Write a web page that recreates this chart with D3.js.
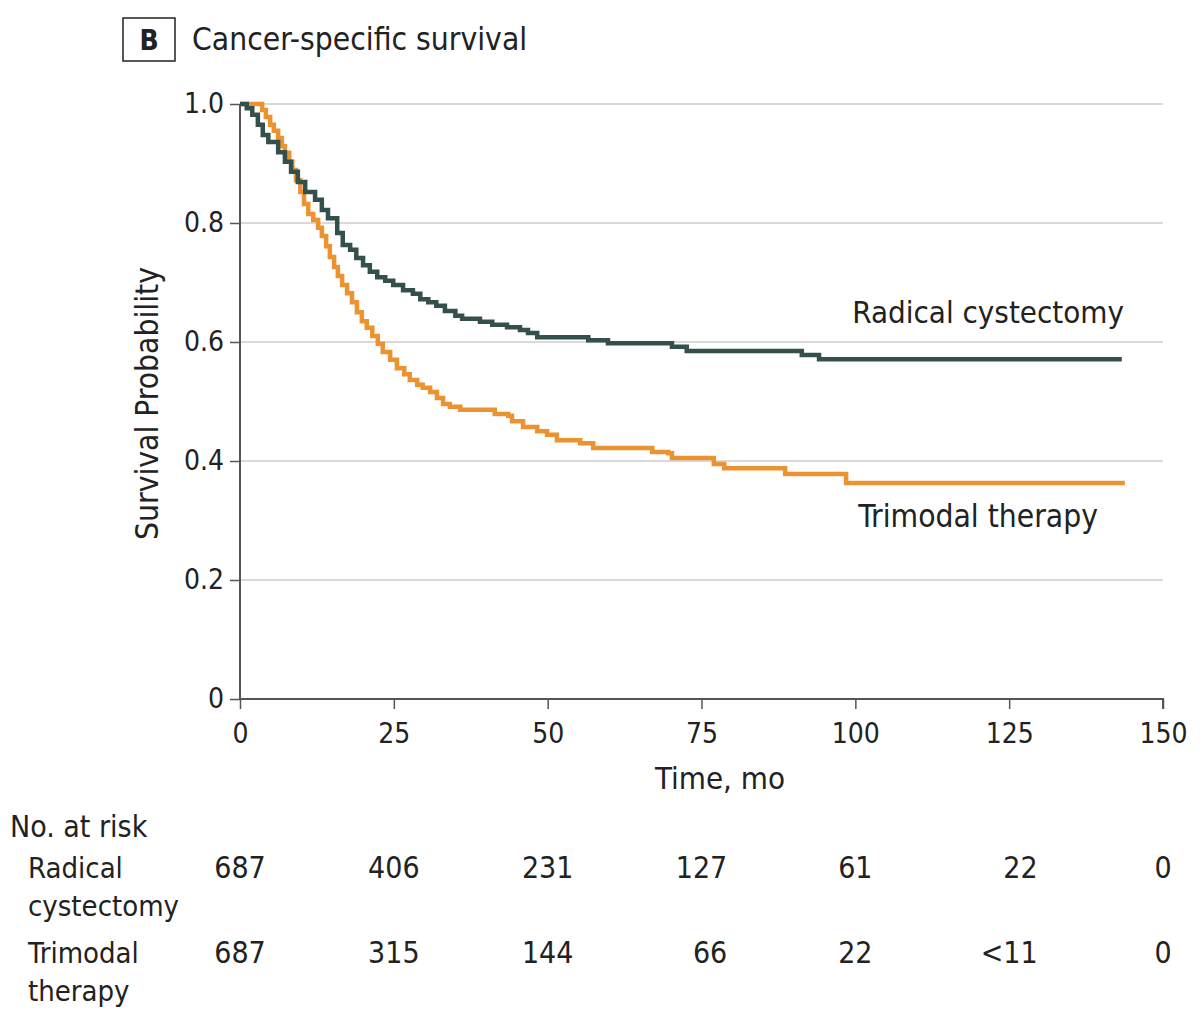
<!DOCTYPE html>
<html>
<head>
<meta charset="utf-8">
<script src="https://cdn.jsdelivr.net/npm/d3@7"></script>
<style>
  html, body { margin: 0; padding: 0; background: #fff; }
  svg { display: block; }
  text { font-family: "Liberation Sans Narrow", "DejaVu Sans Condensed", "Noto Sans", sans-serif; fill: #222; }
</style>
</head>
<body>
<svg id="chart" width="1200" height="1020"></svg>
<script>
// ---- Data ----
const xTicks = [0, 25, 50, 75, 100, 125, 150];
const yTicks = [0, 0.2, 0.4, 0.6, 0.8, 1.0];
const yTickLabels = ["0", "0.2", "0.4", "0.6", "0.8", "1.0"];

// Kaplan-Meier steps: [time (mo), survival probability]
const radicalCystectomy = [
  [0, 1.0], [1.1, 0.993], [2.0, 0.982], [2.9, 0.965], [3.7, 0.948], [4.6, 0.936],
  [6.2, 0.919], [7.3, 0.903], [8.3, 0.886], [9.4, 0.869], [10.6, 0.852], [12.2, 0.839],
  [13.3, 0.822], [14.3, 0.808], [15.8, 0.783], [16.7, 0.763], [17.9, 0.755], [18.9, 0.741],
  [20.0, 0.729], [21.1, 0.718], [22.3, 0.709], [23.6, 0.703], [24.9, 0.696], [26.5, 0.687],
  [28.1, 0.681], [29.3, 0.672], [30.6, 0.667], [31.9, 0.661], [33.3, 0.652], [35.0, 0.644],
  [36.1, 0.639], [39.0, 0.634], [41.0, 0.629], [43.4, 0.625], [45.5, 0.620], [46.8, 0.615],
  [48.3, 0.608], [56.6, 0.603], [59.8, 0.598], [70.2, 0.592], [72.6, 0.585], [91.3, 0.578],
  [94.1, 0.571], [143.3, 0.571]
];
const trimodalTherapy = [
  [0, 1.0], [2.9, 1.0], [3.6, 0.990], [4.2, 0.978], [4.9, 0.965], [5.5, 0.955], [6.2, 0.943],
  [6.8, 0.929], [7.3, 0.918], [8.0, 0.903], [8.5, 0.889], [9.1, 0.872], [9.8, 0.852],
  [10.4, 0.832], [11.1, 0.815], [11.9, 0.805], [12.7, 0.792], [13.3, 0.778], [14.0, 0.761],
  [14.6, 0.743], [15.3, 0.726], [15.9, 0.711], [16.6, 0.696], [17.4, 0.682], [18.2, 0.667],
  [19.0, 0.650], [19.8, 0.635], [20.6, 0.624], [21.5, 0.610], [22.4, 0.597], [23.2, 0.583],
  [24.4, 0.570], [25.5, 0.556], [26.7, 0.546], [27.6, 0.536], [28.8, 0.528], [29.7, 0.523],
  [30.9, 0.516], [32.0, 0.506], [33.0, 0.496], [34.1, 0.491], [35.8, 0.486], [41.4, 0.479],
  [43.6, 0.476], [44.2, 0.467], [46.0, 0.457], [48.3, 0.450], [49.9, 0.444], [51.5, 0.435],
  [55.3, 0.430], [57.4, 0.422], [67.0, 0.415], [69.6, 0.413], [70.2, 0.405], [77.0, 0.395],
  [78.7, 0.388], [88.6, 0.378], [98.5, 0.363], [143.8, 0.363]
];

const riskTimes = [0, 25, 50, 75, 100, 125, 150];
const riskRC = ["687", "406", "231", "127", "61", "22", "0"];
const riskTMT = ["687", "315", "144", "66", "22", "<11", "0"];

// ---- Layout ----
const svg = d3.select("#chart");
const x = d3.scaleLinear().domain([0, 150]).range([240, 1163]);
const y = d3.scaleLinear().domain([0, 1]).range([699, 104]);
const colRC = "#33504c";
const colTMT = "#ea9330";
const axisCol = "#555";
const FF = '"Liberation Sans Narrow", "DejaVu Sans Condensed", sans-serif';

// Title
svg.append("rect").attr("x", 123).attr("y", 18).attr("width", 52).attr("height", 43)
  .attr("fill", "none").attr("stroke", "#222").attr("stroke-width", 1.5);
svg.append("text").attr("x", 149).attr("y", 50).attr("text-anchor", "middle")
  .attr("font-size", 28).attr("font-weight", "bold").text("B");
svg.append("text").attr("x", 192).attr("y", 50).attr("font-size", 31.5).text("Cancer-specific survival");

// Gridlines
svg.append("g").selectAll("line").data(yTicks.filter(d => d > 0)).join("line")
  .attr("x1", x(0)).attr("x2", x(150)).attr("y1", d => y(d)).attr("y2", d => y(d))
  .attr("stroke", "#d9d9d9").attr("stroke-width", 2);

// Axes
const yAxis = d3.axisLeft(y).tickValues(yTicks).tickFormat((d, i) => yTickLabels[i]).tickSize(10).tickPadding(6);
const gy = svg.append("g").attr("transform", `translate(${x(0)},0)`).call(yAxis);
const xAxis = d3.axisBottom(x).tickValues(xTicks).tickSize(10).tickPadding(14);
const gx = svg.append("g").attr("transform", `translate(0,${y(0)})`).call(xAxis);
[gx, gy].forEach(g => {
  g.select(".domain").attr("stroke", axisCol).attr("stroke-width", 2);
  g.selectAll(".tick line").attr("stroke", axisCol).attr("stroke-width", 1.5);
  g.selectAll(".tick text").attr("font-size", 28).attr("fill", "#222").style("font-family", FF);
});
gy.select(".domain").attr("d", `M0,${y(1)}V${y(0)}`);
gx.select(".domain").attr("d", `M${x(0)},0H${x(150)}V10`);

// Axis titles
svg.append("text").attr("x", 720).attr("y", 789).attr("text-anchor", "middle")
  .attr("font-size", 31).text("Time, mo");
svg.append("text").attr("transform", `translate(158,${y(0.5) + 2}) rotate(-90)`)
  .attr("text-anchor", "middle").attr("font-size", 31.5).text("Survival Probability");

// Curves
const line = d3.line().x(d => x(d[0])).y(d => y(d[1])).curve(d3.curveStepAfter);
svg.append("path").datum(trimodalTherapy).attr("d", line)
  .attr("fill", "none").attr("stroke", colTMT).attr("stroke-width", 4.5);
svg.append("path").datum(radicalCystectomy).attr("d", line)
  .attr("fill", "none").attr("stroke", colRC).attr("stroke-width", 4.5);

// Curve labels
svg.append("text").attr("x", 1124).attr("y", 323).attr("text-anchor", "end")
  .attr("font-size", 31).text("Radical cystectomy");
svg.append("text").attr("x", 1098).attr("y", 527).attr("text-anchor", "end")
  .attr("font-size", 31.5).text("Trimodal therapy");

// Number at risk table
svg.append("text").attr("x", 10).attr("y", 837).attr("font-size", 30).text("No. at risk");
const rowLabel = (lines, y0) => {
  lines.forEach((t, i) => svg.append("text").attr("x", 28).attr("y", y0 + i * 38)
    .attr("font-size", 29).text(t));
};
rowLabel(["Radical", "cystectomy"], 878);
rowLabel(["Trimodal", "therapy"], 963);

const rows = [[riskRC, 878], [riskTMT, 963]];
const tbl = svg.append("g");
const cells = [];
rows.forEach(([vals, yy], r) => {
  vals.forEach((v, i) => {
    const t = tbl.append("text").attr("y", yy).attr("font-size", 30).attr("text-anchor", "end").text(v);
    cells.push({ t, i });
  });
});
// right-align each column at tick + half the widest entry
riskTimes.forEach((tm, i) => {
  const col = cells.filter(c => c.i === i);
  const w = d3.max(col, c => c.t.node().getComputedTextLength());
  col.forEach(c => c.t.attr("x", x(tm) + w / 2));
});
</script>
</body>
</html>
